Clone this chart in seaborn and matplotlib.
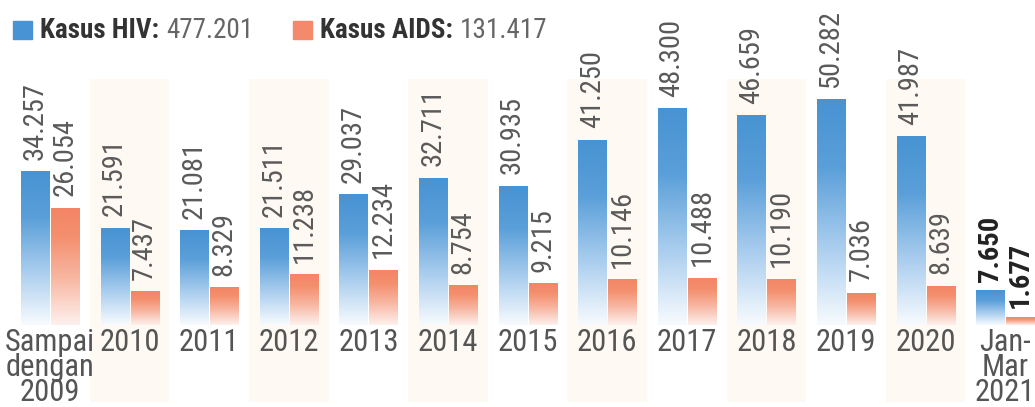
import os
import matplotlib
matplotlib.use("Agg")
import matplotlib.pyplot as plt
from matplotlib import font_manager
from matplotlib.colors import LinearSegmentedColormap
from matplotlib.patches import Rectangle
import numpy as np
import pandas as pd
import seaborn as sns

# data
periods = ["Sampai\ndengan\n2009", "2010", "2011", "2012", "2013", "2014", "2015",
           "2016", "2017", "2018", "2019", "2020", "Jan-\nMar\n2021"]
hiv = [34257, 21591, 21081, 21511, 29037, 32711, 30935, 41250, 48300, 46659, 50282, 41987, 7650]
aids = [26054, 7437, 8329, 11238, 12234, 8754, 9215, 10146, 10488, 10190, 7036, 8639, 1677]
series = ["Kasus HIV", "Kasus AIDS"]
totals = ["477.201", "131.417"]

df = pd.DataFrame({
    "periode": periods * 2,
    "jenis": [series[0]] * len(periods) + [series[1]] * len(periods),
    "kasus": hiv + aids,
})

files = {os.path.basename(f.fname): f.fname for f in font_manager.fontManager.ttflist}


def pick(cands):
    for c in cands:
        if c in files:
            return font_manager.FontProperties(fname=files[c]), 1.0 if "Roboto" in c else 1.1
    return None, 1.0


fp_reg, scale = pick(["RobotoCondensed-Regular.ttf", "BarlowSemiCondensed-Regular.ttf",
                      "DejaVuSansCondensed.ttf"])
fp_bold, _ = pick(["RobotoCondensed-Bold.ttf", "BarlowSemiCondensed-Bold.ttf",
                   "DejaVuSansCondensed-Bold.ttf"])
if fp_reg is None:
    fp_reg = font_manager.FontProperties(family="DejaVu Sans")
if fp_bold is None:
    fp_bold = font_manager.FontProperties(family="DejaVu Sans", weight="bold")


def fp(base, size):
    f = base.copy()
    f.set_size(size * scale)
    return f


sns.set_theme(style="white")
plt.rcParams["font.family"] = ["DejaVu Sans"]

W, H = 1035, 407
fig = plt.figure(figsize=(W / 100, H / 100), dpi=100)
fig.patch.set_facecolor("white")
ax = fig.add_axes([0, 82 / H, 1, 265 / H])

blue, salmon = "#4893d3", "#f38565"
sns.barplot(data=df, x="periode", y="kasus", hue="jenis", order=periods,
            palette=[blue, salmon], saturation=1, width=0.754, gap=0.066,
            legend=False, ax=ax)
bars = list(ax.patches)

cm_hiv = LinearSegmentedColormap.from_list(
    "b", [(0, "#f8fbfe"), (0.35, "#a9cdee"), (0.7, "#5a9fd9"), (1, blue)])
cm_aids = LinearSegmentedColormap.from_list(
    "s", [(0, "#fdf1ed"), (0.4, "#f8b7a3"), (0.75, "#f4906f"), (1, salmon)])
grad = np.linspace(0, 1, 256).reshape(-1, 1)

for p in bars:
    x, w, h = p.get_x(), p.get_width(), p.get_height()
    is_hiv = np.allclose(p.get_facecolor()[:3], matplotlib.colors.to_rgb(blue), atol=0.02)
    p.set_facecolor("none")
    p.set_edgecolor("none")
    ax.imshow(grad, extent=[x, x + w, 0, h], origin="lower", aspect="auto",
              cmap=cm_hiv if is_hiv else cm_aids, zorder=2, interpolation="bicubic")
    last = x + w / 2 > 11.5
    ax.annotate(f"{int(round(h)):,}".replace(",", "."), xy=(x + w / 2, h),
                xytext=(0, 9 if last else 12), textcoords="offset pixels",
                rotation=90, ha="center", va="bottom",
                fontproperties=fp(fp_bold if last else fp_reg, 20.5),
                color="#222222" if last else "#5a5a5a")

# faint stripes behind every second year
for i in range(1, len(periods), 2):
    ax.axvspan(i - 0.5, i + 0.5, ymin=-0.29, ymax=0.93, color="#fefaf3",
               zorder=0, clip_on=False, lw=0)

ax.set_xlim(-0.628, 12.374)
ax.set_ylim(0, 59150)
ax.set_xticks(range(len(periods)))
ax.set_xticklabels(periods, fontproperties=fp(fp_reg, 22), color="#555555",
                   linespacing=0.84)
ax.tick_params(axis="x", length=0, pad=2)
ax.set_yticks([])
ax.set_xlabel("")
ax.set_ylabel("")
for s in ax.spines.values():
    s.set_visible(False)
ax.set_facecolor("none")

# legend line on top
r = fig.canvas.get_renderer()
ypx = 30
xs = [13, 293]
for k in range(2):
    fig.patches.append(Rectangle((xs[k] / W, 1 - 39 / H), 19 / W, 18 / H,
                                 transform=fig.transFigure, color=[blue, "#f4896b"][k]))
    t1 = fig.text((xs[k] + 27) / W, 1 - ypx / H, series[k] + ":",
                  fontproperties=fp(fp_bold, 19.5), color="#333333", va="center")
    bb = t1.get_window_extent(r)
    fig.text((bb.x1 + 7) / W, 1 - ypx / H, totals[k],
             fontproperties=fp(fp_reg, 19.5), color="#666666", va="center")

fig.savefig("out.png", dpi=100, facecolor="white")
